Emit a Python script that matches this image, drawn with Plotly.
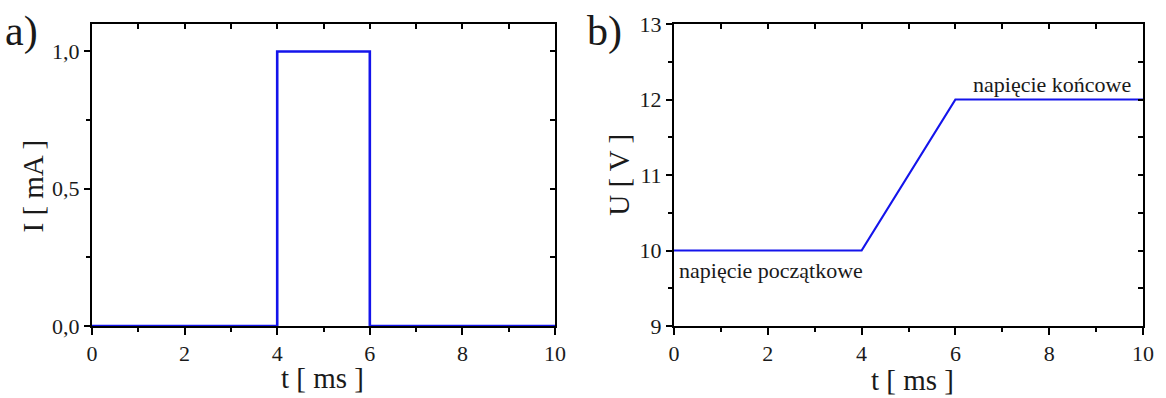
import plotly.graph_objects as go

# Current pulse (panel a)
t_current = [0, 4, 4, 6, 6, 10]
i_current = [0, 0, 1, 1, 0, 0]

# Voltage ramp (panel b)
t_voltage = [0, 4, 6, 10]
u_voltage = [10, 10, 12, 12]

x_ticks = [0, 2, 4, 6, 8, 10]
i_ticks = [0, 0.5, 1.0]
i_ticktext = ["0,0", "0,5", "1,0"]
u_ticks = [9, 10, 11, 12, 13]

W, H = 1166, 398
FONT = "Liberation Serif"
LINE = "rgb(20,20,235)"
INK = "#1a1a1a"

# plot-area geometry in pixels
ax_l = (92, 559)
ax_r = (679, 1152)
ax_top, ax_bot = 18, 326.5

# margins wrap both panels; domains are fractions of the inner area
m_l, m_r = ax_l[0], W - ax_r[1]
m_t, m_b = ax_top, H - ax_bot
inner_w = W - m_l - m_r
inner_h = H - m_t - m_b
dom_l = [0, (ax_l[1] - m_l) / inner_w]
dom_r = [(ax_r[0] - m_l) / inner_w, 1]
dom_y = [0, 1]

# the last x tick label widens the right margin a little
inner_w_eff = inner_w - 9


def px_x(px):
    """pixel column -> paper x"""
    return (px - m_l) / inner_w_eff


def px_y(py):
    """pixel row -> paper y"""
    return (ax_bot - py) / inner_h


fig = go.Figure()

fig.add_trace(go.Scatter(x=t_current, y=i_current, mode="lines",
                         line=dict(color=LINE, width=2.6),
                         xaxis="x", yaxis="y", hoverinfo="skip"))
fig.add_trace(go.Scatter(x=t_voltage, y=u_voltage, mode="lines",
                         line=dict(color=LINE, width=2.2),
                         xaxis="x2", yaxis="y2", hoverinfo="skip"))

# empty traces that bring up the top/right axes carrying inward ticks
for xa, ya in [("x3", "y"), ("x", "y3"), ("x4", "y2"), ("x2", "y4")]:
    fig.add_trace(go.Scatter(x=[None], y=[None], mode="lines",
                             xaxis=xa, yaxis=ya, hoverinfo="skip",
                             showlegend=False))

tickfont = dict(family=FONT, size=22, color=INK)


def main_x(domain, anchor):
    return dict(domain=domain, anchor=anchor, range=[0, 10],
                tickvals=x_ticks, ticks="outside",
                ticklen=7, tickwidth=2, tickcolor="black", showline=True,
                linecolor="black", linewidth=2, mirror=True,
                showgrid=False, zeroline=False, tickfont=tickfont,
                minor=dict(dtick=1, tick0=0, ticks="outside", ticklen=4,
                           tickwidth=2, tickcolor="black"))


def main_y(domain, anchor, rng, vals, text, minor_dtick):
    return dict(domain=domain, anchor=anchor, range=rng,
                tickvals=vals, ticktext=text,
                ticks="outside", ticklen=6, tickwidth=2, tickcolor="black",
                showline=True, linecolor="black", linewidth=2,
                mirror=True, showgrid=False, zeroline=False,
                tickfont=tickfont,
                minor=dict(dtick=minor_dtick, tick0=rng[0], ticks="outside",
                           ticklen=4, tickwidth=2, tickcolor="black"))


def top_x(over, anchor):
    return dict(overlaying=over, anchor=anchor, side="top", range=[0, 10],
                dtick=1, tick0=0, ticks="inside", ticklen=5, tickwidth=2,
                tickcolor="black", showticklabels=False, showgrid=False,
                zeroline=False, showline=False)


def right_y(over, anchor, rng, step):
    return dict(overlaying=over, anchor=anchor, side="right", range=rng,
                dtick=step, tick0=rng[0], ticks="inside", ticklen=5,
                tickwidth=2, tickcolor="black", showticklabels=False,
                showgrid=False, zeroline=False, showline=False)


i_range = [0, 1.1]
u_range = [9, 13]

fig.update_layout(
    template="simple_white",
    width=W, height=H,
    margin=dict(l=m_l, r=m_r, t=m_t, b=m_b),
    showlegend=False,
    xaxis=main_x(dom_l, "y"),
    yaxis=main_y(dom_y, "x", i_range, i_ticks, i_ticktext, 0.25),
    xaxis2=main_x(dom_r, "y2"),
    yaxis2=main_y(dom_y, "x2", u_range, u_ticks, [str(v) for v in u_ticks], 0.5),
    xaxis3=top_x("x", "y"),
    yaxis3=right_y("y", "x", i_range, 0.25),
    xaxis4=top_x("x2", "y2"),
    yaxis4=right_y("y2", "x2", u_range, 0.5),
)

title_font = dict(family=FONT, size=29, color=INK)
annotations = [
    # panel letters
    dict(text="a)", x=px_x(3), y=px_y(26), xanchor="left", yanchor="middle",
         font=dict(family=FONT, size=42, color=INK)),
    dict(text="b)", x=px_x(585), y=px_y(26), xanchor="left",
         yanchor="middle", font=dict(family=FONT, size=42, color=INK)),
    # axis titles
    dict(text="t [ ms ]", x=px_x(322), y=px_y(380), xanchor="center",
         yanchor="middle", font=title_font),
    dict(text="t [ ms ]", x=px_x(912), y=px_y(382), xanchor="center",
         yanchor="middle", font=title_font),
    dict(text="I [ mA ]", x=px_x(33), y=px_y(184), xanchor="center",
         yanchor="middle", textangle=-90, font=title_font),
    dict(text="U [ V ]", x=px_x(619), y=px_y(172), xanchor="center",
         yanchor="middle", textangle=-90, font=title_font),
]
for a in annotations:
    a.update(xref="paper", yref="paper", showarrow=False)

# curve labels on panel b
annotations += [
    dict(text="napięcie początkowe", x=0.06, y=9.74, xref="x2", yref="y2",
         xanchor="left", yanchor="middle", showarrow=False,
         font=dict(family=FONT, size=22, color=INK)),
    dict(text="napięcie końcowe", x=9.78, y=12.2, xref="x2", yref="y2",
         xanchor="right", yanchor="middle", showarrow=False,
         font=dict(family=FONT, size=22, color=INK)),
]
fig.update_layout(annotations=annotations)

fig.write_html("out.html")
